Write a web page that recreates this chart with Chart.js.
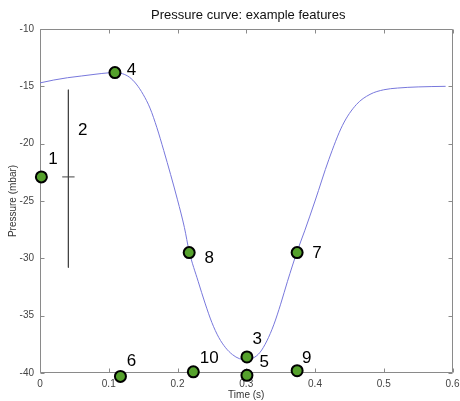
<!DOCTYPE html>
<html>
<head>
<meta charset="utf-8">
<script src="https://cdn.jsdelivr.net/npm/chart.js@4"></script>
<style>
html,body{margin:0;padding:0;background:#fff;}
#wrap{width:460px;height:401px;position:relative;}
</style>
</head>
<body>
<div id="wrap"><canvas id="c"></canvas></div>
<script>
// Pressure curve (time in s, pressure in mbar)
const curveTime = [0.000,0.020,0.040,0.060,0.080,0.100,0.110,0.120,0.130,0.140,0.150,0.160,0.170,0.180,0.190,0.200,0.210,0.217,0.230,0.240,0.250,0.260,0.270,0.280,0.290,0.300,0.310,0.320,0.330,0.340,0.350,0.360,0.374,0.385,0.400,0.420,0.440,0.460,0.480,0.500,0.520,0.550,0.590];
const curvePressure = [-14.7,-14.45,-14.25,-14.1,-13.95,-13.82,-13.8,-13.9,-14.2,-14.8,-15.7,-16.9,-18.6,-20.6,-22.7,-24.9,-27.3,-29.4,-32.0,-33.9,-35.6,-36.9,-37.8,-38.4,-38.75,-38.85,-38.7,-38.2,-37.2,-35.8,-34.0,-32.0,-29.4,-27.6,-25.0,-21.4,-18.4,-16.6,-15.7,-15.3,-15.15,-15.05,-15.0];

// Feature markers
const featureTime = [0.002,0.109,0.217,0.374,0.301,0.301,0.374,0.223,0.117];
const featurePressure = [-22.9,-13.8,-29.5,-29.5,-38.6,-40.2,-39.8,-39.9,-40.3];

// Feature "2" error bar
const barTime = 0.0413;
const barRange = [-15.3,-30.8];
const barCenter = -22.9;
const barHalfWidth = 0.009;

// Feature labels
const labelText = ['1','2','4','8','7','3','5','9','10','6'];
const labelTime = [0.019,0.062,0.133,0.246,0.403,0.316,0.326,0.388,0.246,0.133];
const labelPressure = [-21.4,-18.8,-13.6,-30.0,-29.6,-37.1,-39.1,-38.7,-38.7,-39.0];

const chartTitle = 'Pressure curve: example features';
const xTicks = [0,0.1,0.2,0.3,0.4,0.5,0.6];
const yTicks = [-40,-35,-30,-25,-20,-15,-10];

const FONT = "'Liberation Sans', Arial, Helvetica, sans-serif";

const boxPlugin = {
  id: 'boxPlugin',
  beforeDatasetsDraw(chart) {
    const {ctx, chartArea: a, scales: {x, y}} = chart;
    ctx.save();
    ctx.strokeStyle = '#8a8a8a';
    ctx.lineWidth = 1;
    ctx.beginPath();
    const L = Math.round(a.left) + 0.5, R = Math.round(a.right) - 0.5;
    const T = Math.round(a.top) + 0.5, B = Math.round(a.bottom) - 0.5;
    ctx.rect(L, T, R - L, B - T);
    const tl = 4;
    xTicks.forEach(v => {
      const px = Math.round(x.getPixelForValue(v)) + 0.5;
      ctx.moveTo(px, B); ctx.lineTo(px, B - tl);
      ctx.moveTo(px, T); ctx.lineTo(px, T + tl);
    });
    yTicks.forEach(v => {
      const py = Math.round(y.getPixelForValue(v)) + 0.5;
      ctx.moveTo(L, py); ctx.lineTo(L + tl, py);
      ctx.moveTo(R, py); ctx.lineTo(R - tl, py);
    });
    ctx.stroke();
    ctx.restore();
  },
  afterDatasetsDraw(chart) {
    const {ctx, chartArea: a, scales: {x, y}} = chart;
    ctx.save();
    ctx.fillStyle = '#000';
    ctx.font = '17px ' + FONT;
    ctx.textAlign = 'center';
    ctx.textBaseline = 'middle';
    labelText.forEach((t, i) => {
      ctx.fillText(t, x.getPixelForValue(labelTime[i]), y.getPixelForValue(labelPressure[i]));
    });
    ctx.fillStyle = '#111';
    ctx.font = '13px ' + FONT;
    ctx.fillText(chartTitle, (a.left + a.right) / 2 + 2, 15);
    ctx.restore();
  }
};

new Chart(document.getElementById('c'), {
  type: 'scatter',
  data: {
    datasets: [
      {
        label: 'curve',
        data: curveTime.map((t, i) => ({x: t, y: curvePressure[i]})),
        showLine: true,
        borderColor: '#7878dc',
        borderWidth: 1,
        pointRadius: 0,
        cubicInterpolationMode: 'monotone',
        order: 3
      },
      {
        label: 'bar',
        data: [{x: barTime, y: barRange[0]}, {x: barTime, y: barRange[1]}],
        showLine: true,
        borderColor: '#444',
        borderWidth: 1,
        pointRadius: 0,
        order: 4
      },
      {
        label: 'barCenter',
        data: [{x: barTime - barHalfWidth, y: barCenter}, {x: barTime + barHalfWidth, y: barCenter}],
        showLine: true,
        borderColor: '#444',
        borderWidth: 1,
        pointRadius: 0,
        order: 4
      },
      {
        label: 'features',
        data: featureTime.map((t, i) => ({x: t, y: featurePressure[i]})),
        pointRadius: 5.5,
        pointBackgroundColor: '#55a12c',
        pointBorderColor: '#000',
        pointBorderWidth: 2,
        clip: false,
        order: 1
      }
    ]
  },
  options: {
    responsive: true,
    maintainAspectRatio: false,
    animation: false,
    events: [],
    layout: {padding: {left: 0, right: 6, top: 29, bottom: 0}},
    plugins: {
      legend: {display: false},
      tooltip: {enabled: false},
      title: {display: false}
    },
    scales: {
      x: {
        type: 'linear',
        min: 0, max: 0.6,
        border: {display: false},
        grid: {display: false, drawTicks: false},
        ticks: {
          stepSize: 0.1,
          maxRotation: 0,
          padding: 5,
          color: '#444',
          font: {family: FONT, size: 10}
        },
        title: {
          display: true,
          text: 'Time (s)',
          color: '#333',
          font: {family: FONT, size: 10},
          padding: {top: 0, bottom: 0}
        },
        afterFit(s) { s.height = 28; s.paddingLeft = 0; s.paddingRight = 0; }
      },
      y: {
        type: 'linear',
        min: -40, max: -10,
        border: {display: false},
        grid: {display: false, drawTicks: false},
        ticks: {
          stepSize: 5,
          padding: 6,
          color: '#444',
          font: {family: FONT, size: 10}
        },
        title: {
          display: true,
          text: 'Pressure (mbar)',
          color: '#333',
          font: {family: FONT, size: 10},
          padding: {top: 7, bottom: 0}
        },
        afterFit(s) { s.width = 40; s.paddingTop = 0; s.paddingBottom = 0; }
      }
    }
  },
  plugins: [boxPlugin]
});
</script>
</body>
</html>
